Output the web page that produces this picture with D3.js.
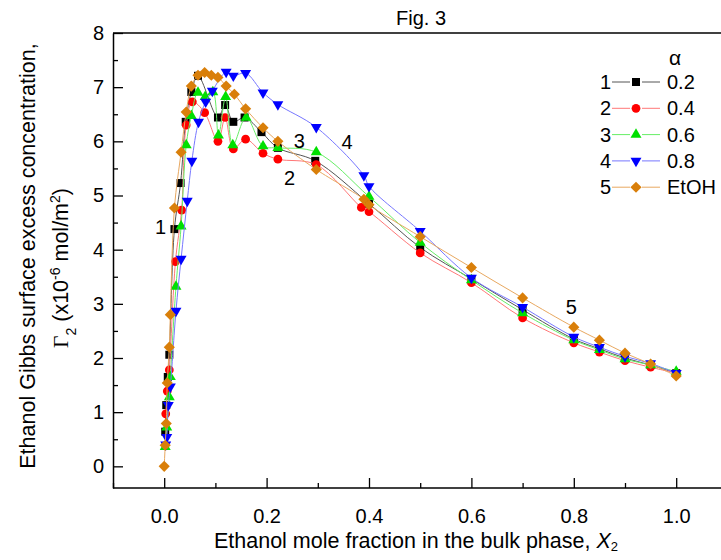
<!DOCTYPE html>
<html>
<head>
<meta charset="utf-8">
<script src="https://cdn.jsdelivr.net/npm/d3@7"></script>
<style>
  body { margin: 0; background: #fff; }
  text { font-family: "Liberation Sans", Arial, sans-serif; fill: #000; }
</style>
</head>
<body>
<svg id="chart" width="721" height="560"></svg>
<script>
// ---- data ----
const seriesNums = ["1", "2", "3", "4", "5"];
const alphaLabels = ["0.2", "0.4", "0.6", "0.8", "EtOH"];

// alpha = 0.2
const x1 = [0.002, 0.004, 0.007, 0.010, 0.020, 0.032, 0.042, 0.053, 0.066, 0.105, 0.119, 0.135, 0.157, 0.190, 0.222, 0.295, 0.400, 0.5, 0.6, 0.7, 0.8, 0.85, 0.9, 0.95, 1.0];
const g1 = [0.64, 1.13, 1.65, 2.06, 4.38, 5.23, 6.36, 6.91, 7.21, 6.44, 6.67, 6.36, 6.44, 6.17, 5.88, 5.64, 4.85, 4.04, 3.46, 2.89, 2.35, 2.17, 2.00, 1.87, 1.72];
// alpha = 0.4
const x2 = [0.003, 0.006, 0.010, 0.022, 0.034, 0.043, 0.055, 0.079, 0.105, 0.119, 0.135, 0.159, 0.193, 0.222, 0.297, 0.385, 0.400, 0.5, 0.6, 0.7, 0.8, 0.85, 0.9, 0.95, 1.0];
const g2 = [0.97, 1.39, 1.78, 3.78, 4.73, 6.30, 6.73, 6.53, 6.00, 6.44, 5.86, 6.04, 5.78, 5.67, 5.57, 4.78, 4.70, 3.94, 3.39, 2.74, 2.28, 2.11, 1.95, 1.83, 1.72];
// alpha = 0.6
const x3 = [0.002, 0.005, 0.010, 0.012, 0.023, 0.033, 0.043, 0.053, 0.066, 0.080, 0.095, 0.106, 0.120, 0.134, 0.160, 0.193, 0.222, 0.297, 0.400, 0.5, 0.6, 0.7, 0.8, 0.85, 0.9, 0.95, 1.0];
const g3 = [0.36, 0.72, 1.28, 1.65, 3.32, 4.43, 5.93, 6.47, 6.90, 6.82, 6.91, 6.11, 6.82, 5.93, 6.44, 5.91, 5.88, 5.80, 4.98, 4.13, 3.44, 2.83, 2.33, 2.15, 1.98, 1.87, 1.75];
// alpha = 0.8
const x4 = [0.003, 0.005, 0.008, 0.012, 0.023, 0.033, 0.045, 0.054, 0.067, 0.081, 0.094, 0.121, 0.135, 0.159, 0.193, 0.222, 0.297, 0.390, 0.400, 0.5, 0.6, 0.7, 0.8, 0.85, 0.9, 0.95, 1.0];
const g4 = [0.40, 0.54, 1.13, 1.47, 2.87, 3.83, 4.90, 5.64, 6.36, 6.73, 6.93, 7.28, 7.21, 7.26, 6.90, 6.68, 6.26, 5.37, 5.17, 4.34, 3.48, 2.94, 2.39, 2.20, 2.03, 1.90, 1.72];
// EtOH
const x5 = [0.000, 0.002, 0.004, 0.006, 0.010, 0.012, 0.020, 0.033, 0.043, 0.053, 0.066, 0.079, 0.092, 0.105, 0.121, 0.137, 0.159, 0.193, 0.222, 0.297, 0.390, 0.400, 0.5, 0.6, 0.7, 0.8, 0.85, 0.9, 0.95, 1.0];
const g5 = [0.00, 0.39, 0.79, 1.54, 2.20, 2.80, 4.77, 5.80, 6.54, 7.02, 7.22, 7.27, 7.22, 7.18, 7.02, 6.87, 6.60, 6.25, 6.00, 5.48, 4.93, 4.83, 4.24, 3.67, 3.11, 2.57, 2.33, 2.09, 1.89, 1.67];

// curve number labels placed in data coordinates
const curveLabels = ["1", "2", "3", "4", "5"];
const curveLabelX = [-0.007, 0.245, 0.264, 0.357, 0.795];
const curveLabelY = [4.42, 5.33, 6.00, 5.98, 2.94];

const xTicks = [0.0, 0.2, 0.4, 0.6, 0.8, 1.0];
const yTicks = [0, 1, 2, 3, 4, 5, 6, 7, 8];

// ---- styles ----
const markerColors = ["#000000", "#ff0000", "#00e000", "#0000ff", "#d97f0a"];
const lineColors = ["#555555", "#ff7777", "#66ee66", "#7777ff", "#e8a860"];
const shapes = ["square", "circle", "triUp", "triDown", "diamond"];

const svg = d3.select("#chart");
const plotLeft = 113, plotTop = 33, plotBottom = 488;
const pxPerX = 512;

const x = d3.scaleLinear().domain([-0.1, 1.1]).range([plotLeft, plotLeft + 1.2 * pxPerX]);
const y = d3.scaleLinear().domain([-0.4, 8]).range([plotBottom, plotTop]);

function symbolPath(shape) {
    if (shape === "square") return d3.symbol(d3.symbolSquare, 64)();
    if (shape === "circle") return d3.symbol(d3.symbolCircle, 60)();
    if (shape === "triUp" || shape === "triDown") return d3.symbol(d3.symbolTriangle, 52)();
    return d3.symbol(d3.symbolSquare, 62)();
}
function symbolTransform(shape, px, py) {
    if (shape === "triDown") return `translate(${px},${py}) rotate(180)`;
    if (shape === "diamond") return `translate(${px},${py}) rotate(45)`;
    return `translate(${px},${py})`;
}

// frame top
svg.append("line").attr("x1", plotLeft).attr("x2", 721).attr("y1", plotTop).attr("y2", plotTop)
    .attr("stroke", "#000").attr("stroke-width", 1.5);

// axes with inward ticks
const xMinor = d3.range(-0.1, 1.11, 0.1).map(v => +v.toFixed(2)).filter(v => !xTicks.includes(v));
const yMinor = d3.range(0.5, 8, 1);

svg.append("g").attr("transform", `translate(0,${plotBottom})`)
    .call(d3.axisBottom(x).tickValues(xMinor).tickSize(-5).tickFormat(""))
    .call(g => g.select(".domain").remove())
    .selectAll("line").attr("stroke-width", 1.3);
const xAxis = svg.append("g").attr("transform", `translate(0,${plotBottom})`)
    .call(d3.axisBottom(x).tickValues(xTicks).tickSize(-10).tickSizeOuter(0).tickPadding(21).tickFormat(d3.format(".1f")));
xAxis.select(".domain").attr("stroke-width", 1.5).attr("d", `M${plotLeft},0H721`);
xAxis.selectAll("line").attr("stroke-width", 1.3);
xAxis.selectAll("text").attr("font-size", 20).attr("font-family", "Liberation Sans, Arial, sans-serif");

svg.append("g").attr("transform", `translate(${plotLeft},0)`)
    .call(d3.axisLeft(y).tickValues(yMinor).tickSize(-5).tickFormat(""))
    .call(g => g.select(".domain").remove())
    .selectAll("line").attr("stroke-width", 1.3);
const yAxis = svg.append("g").attr("transform", `translate(${plotLeft},0)`)
    .call(d3.axisLeft(y).tickValues(yTicks).tickSize(-10).tickSizeOuter(0).tickPadding(9).tickFormat(d3.format("d")));
yAxis.select(".domain").attr("stroke-width", 1.5);
yAxis.selectAll("line").attr("stroke-width", 1.3);
yAxis.selectAll("text").attr("font-size", 20).attr("font-family", "Liberation Sans, Arial, sans-serif");

// series
const allX = [x1, x2, x3, x4, x5];
const allG = [g1, g2, g3, g4, g5];
const line = d3.line().x(d => x(d[0])).y(d => y(d[1])).curve(d3.curveCatmullRom.alpha(0.5));

allX.forEach((xs, i) => {
    const pts = xs.map((v, k) => [v, allG[i][k]]);
    const grp = svg.append("g");
    grp.append("path").datum(pts).attr("d", line)
        .attr("fill", "none").attr("stroke", lineColors[i]).attr("stroke-width", 1);
    grp.selectAll("path.pt").data(pts).join("path").attr("class", "pt")
        .attr("d", symbolPath(shapes[i]))
        .attr("transform", d => symbolTransform(shapes[i], x(d[0]), y(d[1])))
        .attr("fill", markerColors[i]);
});

// curve number labels
curveLabels.forEach((t, i) => {
    svg.append("text").attr("x", x(curveLabelX[i])).attr("y", y(curveLabelY[i]))
        .attr("text-anchor", "middle").attr("dominant-baseline", "central")
        .attr("font-size", 20).text(t);
});

// title
svg.append("text").attr("x", 421).attr("y", 25).attr("text-anchor", "middle")
    .attr("font-size", 20).text("Fig. 3");

// x title
const xt = svg.append("text").attr("x", 416).attr("y", 548).attr("text-anchor", "middle").attr("font-size", 21.5);
xt.append("tspan").text("Ethanol mole fraction in the bulk phase, ");
xt.append("tspan").attr("font-style", "italic").text("X");
xt.append("tspan").attr("font-size", 13).attr("baseline-shift", "-25%").text("2");

// y title (two lines)
svg.append("text").attr("transform", "translate(35,256) rotate(-90)").attr("text-anchor", "middle")
    .attr("font-size", 21.5).text("Ethanol Gibbs surface excess concentration,");
const yt = svg.append("text").attr("transform", "translate(68,268) rotate(-90)").attr("text-anchor", "middle")
    .attr("font-size", 21.5);
yt.append("tspan").attr("font-family", "Liberation Serif, Times New Roman, serif").text("Γ");
yt.append("tspan").attr("font-size", 14).attr("baseline-shift", "sub").text("2");
yt.append("tspan").text(" (x10");
yt.append("tspan").attr("font-size", 14).attr("baseline-shift", "super").text("-6");
yt.append("tspan").text(" mol/m");
yt.append("tspan").attr("font-size", 14).attr("baseline-shift", "super").text("2");
yt.append("tspan").text(")");

// legend
const legX = 600, legY0 = 82, legStep = 26.3;
svg.append("text").attr("x", 675).attr("y", 57).attr("text-anchor", "middle")
    .attr("dominant-baseline", "central").attr("font-size", 21)
    .attr("font-family", "Liberation Serif, Times New Roman, serif").text("α");
seriesNums.forEach((n, i) => {
    const ly = legY0 + i * legStep;
    svg.append("text").attr("x", legX).attr("y", ly).attr("dominant-baseline", "central")
        .attr("font-size", 20).text(n);
    [[legX + 12, legX + 30], [legX + 42, legX + 60]].forEach(seg => {
        svg.append("line").attr("x1", seg[0]).attr("x2", seg[1]).attr("y1", ly).attr("y2", ly)
            .attr("stroke", lineColors[i]).attr("stroke-width", 1);
    });
    svg.append("path").attr("d", symbolPath(shapes[i]))
        .attr("transform", symbolTransform(shapes[i], legX + 36, ly))
        .attr("fill", markerColors[i]);
    svg.append("text").attr("x", legX + 67).attr("y", ly).attr("dominant-baseline", "central")
        .attr("font-size", 20).text(alphaLabels[i]);
});
</script>
</body>
</html>
